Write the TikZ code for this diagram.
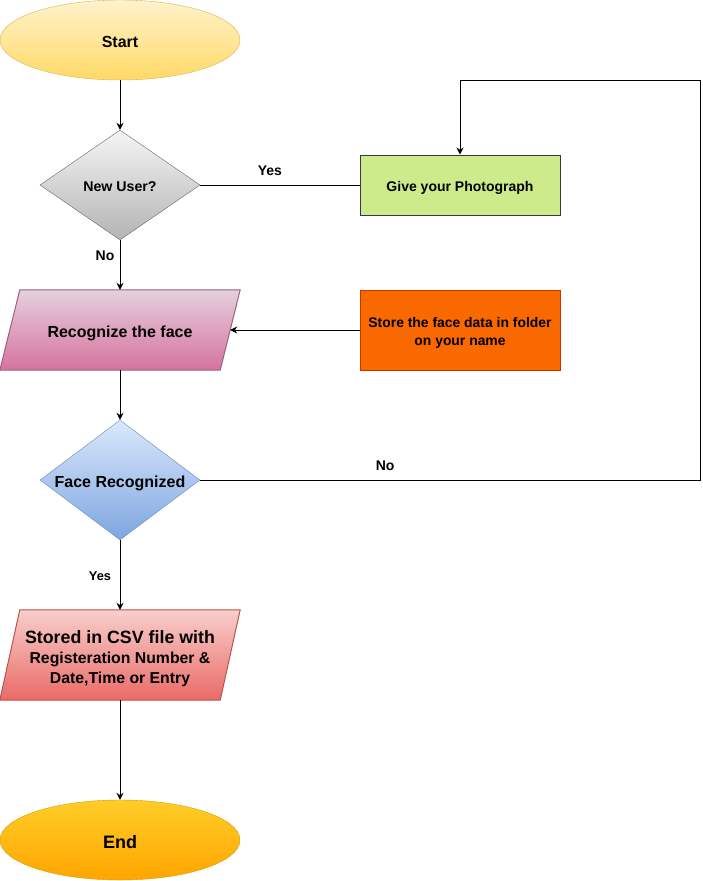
\documentclass[tikz,border=0pt]{standalone}
\usepackage{fontspec}
\setmainfont{Liberation Sans}
\usetikzlibrary{shapes.geometric,arrows.meta,backgrounds}
\definecolor{startT}{HTML}{FFF2CC}\definecolor{startB}{HTML}{FFD966}\definecolor{startD}{HTML}{D6B656}
\definecolor{nuT}{HTML}{F5F5F5}\definecolor{nuB}{HTML}{B3B3B3}\definecolor{nuD}{HTML}{666666}
\definecolor{recT}{HTML}{E6D0DE}\definecolor{recB}{HTML}{D5739D}\definecolor{recD}{HTML}{996185}
\definecolor{frT}{HTML}{DAE8FC}\definecolor{frB}{HTML}{7EA6E0}\definecolor{frD}{HTML}{6C8EBF}
\definecolor{csvT}{HTML}{F8CECC}\definecolor{csvB}{HTML}{EA6B66}\definecolor{csvD}{HTML}{B85450}
\definecolor{endT}{HTML}{FFCD28}\definecolor{endB}{HTML}{FFA500}\definecolor{endD}{HTML}{D79B00}
\definecolor{photoF}{HTML}{CDEB8B}\definecolor{photoD}{HTML}{36393D}
\definecolor{storeF}{HTML}{FA6800}\definecolor{storeD}{HTML}{C73500}
\newcommand{\lowertxt}[2]{\raisebox{-#1}[\height][\depth]{#2}}
\newcommand{\flattxt}[2]{\makebox[0pt]{\raisebox{-#1}[0pt][0pt]{#2}}}
\begin{document}
\begin{tikzpicture}[x=1pt,y=-1pt,
  every node/.style={font=\bfseries},
  term/.style={ellipse, minimum width=240pt, minimum height=80pt, inner sep=0pt},
  decis/.style={diamond, minimum width=160pt, minimum height=110pt, inner sep=0pt},
  box/.style={rectangle, minimum width=200pt, minimum height=60pt, inner sep=0pt, line width=1pt},
  iobox/.style={rectangle, minimum width=220pt, inner sep=0pt, align=center},
  conn/.style={draw=black, line width=1pt, -{Stealth[length=7pt,width=7pt]}},
  plainline/.style={draw=black, line width=1pt},
  lbl/.style={font=\fontsize{14}{16}\selectfont\bfseries, inner sep=0pt}
]
\useasboundingbox (0,0) rectangle (702,881);

\node[term, draw=startD, top color=startT, bottom color=startB, font=\fontsize{16}{18}\selectfont\bfseries] (start) at (120,40) {\lowertxt{1.5pt}{Start}};
\node[decis, draw=nuD, top color=nuT, bottom color=nuB, font=\fontsize{14.2}{16}\selectfont\bfseries] (newuser) at (120,185) {\flattxt{6pt}{New User?}};
\node[box, draw=photoD, fill=photoF, font=\fontsize{14}{16}\selectfont\bfseries] (photo) at (460,185) {\lowertxt{3pt}{Give your Photograph}};
\node[iobox, minimum height=80pt, font=\fontsize{16}{18}\selectfont\bfseries] (recog) at (120,330) {\lowertxt{3pt}{Recognize the face}};
\node[box, minimum height=80pt, draw=storeD, fill=storeF, align=center, font=\fontsize{13.9}{18}\selectfont\bfseries] (store) at (460,330) {\lowertxt{3pt}{Store the face data in folder}\\\lowertxt{3pt}{on your name}};
\node[decis, minimum height=120pt, draw=frD, top color=frT, bottom color=frB, font=\fontsize{16}{18}\selectfont\bfseries] (facerec) at (120,480) {\flattxt{7.5pt}{Face Recognized}};
\node[iobox, minimum height=90pt, font=\fontsize{15.8}{20}\selectfont\bfseries] (csv) at (120,655) {\lowertxt{3.5pt}{\fontsize{17.8}{20}\selectfont Stored in CSV file with}\\\lowertxt{3.5pt}{Registeration Number \&}\\\lowertxt{3.5pt}{Date,Time or Entry}};
\node[term, draw=endD, top color=endT, bottom color=endB, font=\fontsize{18}{20}\selectfont\bfseries] (end) at (120,840) {\lowertxt{2pt}{End}};

\begin{scope}[on background layer]
  \path[draw=recD, line width=1pt, top color=recT, bottom color=recB]
    ([xshift=10pt]recog.north west) -- ([xshift=10pt]recog.north east)
    -- ([xshift=-10pt]recog.south east) -- ([xshift=-10pt]recog.south west) -- cycle;
  \path[draw=csvD, line width=1pt, top color=csvT, bottom color=csvB]
    ([xshift=10pt]csv.north west) -- ([xshift=10pt]csv.north east)
    -- ([xshift=-10pt]csv.south east) -- ([xshift=-10pt]csv.south west) -- cycle;
\end{scope}

\coordinate (c1) at (700,480);
\coordinate (c2) at (700,80);
\coordinate (c3) at (460,80);

\draw[conn] (start) -- (newuser);
\draw[plainline] (newuser.east) -- node[lbl, pos=0.4375, yshift=14pt] {Yes} (photo.west);
\draw[conn] (newuser.south) -- node[lbl, pos=0.32, xshift=-15pt] {No} (recog.north);
\draw[conn] (store.west) -- (recog.east);
\draw[conn] (recog.south) -- (facerec.north);
\draw[conn] (facerec.east) -- node[lbl, pos=0.37, yshift=14pt] {No} (c1) -- (c2) -- (c3) -- (photo.north);
\draw[conn] (facerec.south) -- node[lbl, pos=0.514, xshift=-20pt, font=\fontsize{12.8}{14}\selectfont\bfseries] {Yes} (csv.north);
\draw[conn] (csv.south) -- (end.north);
\end{tikzpicture}
\end{document}
